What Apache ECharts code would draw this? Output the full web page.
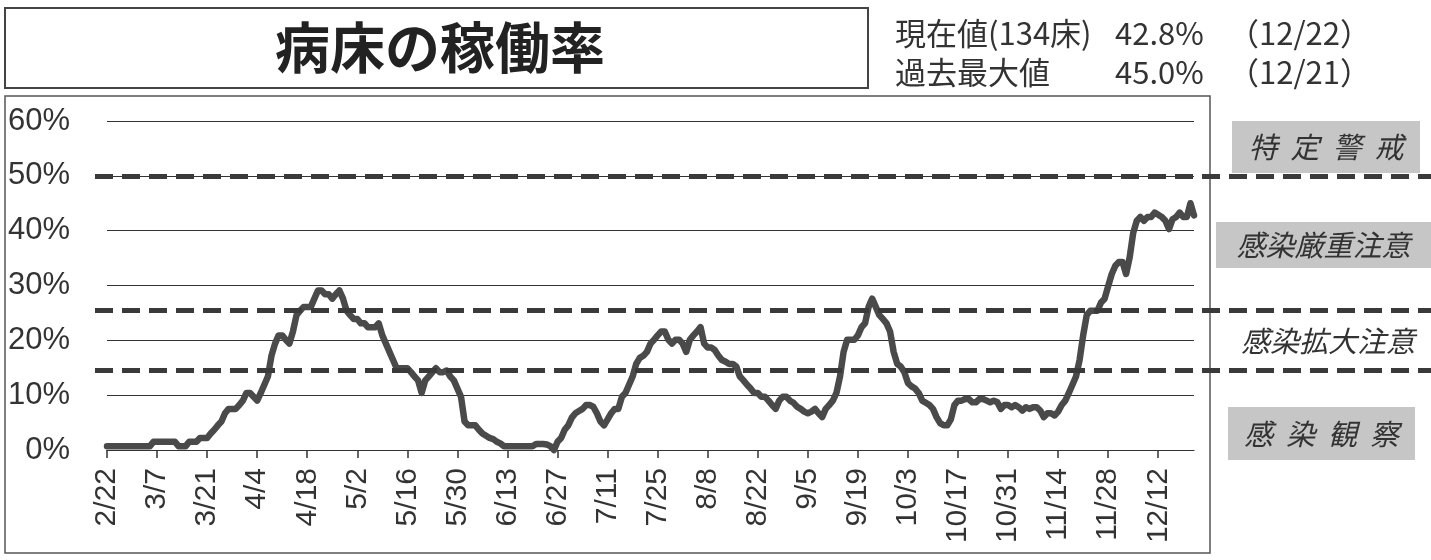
<!DOCTYPE html>
<html>
<head>
<meta charset="utf-8">
<script src="https://cdn.jsdelivr.net/npm/echarts@6/dist/echarts.min.js"></script>
<style>
  html, body { margin: 0; padding: 0; background: #fff; }
  #chart { width: 1431px; height: 560px; }
</style>
</head>
<body>
<div id="chart"></div>
<script>
// Daily bed occupancy rate (%), one array per month, 2/22 – 12/22
const rateFeb = [0.7, 0.7, 0.7, 0.7, 0.7, 0.7, 0.7, 0.7];
const rateMar = [0.7, 0.7, 0.7, 0.7, 0.7, 1.5, 1.5, 1.5, 1.5, 1.5, 1.5, 1.5, 0.7, 0.7, 0.7,
                 1.5, 1.5, 1.5, 2.2, 2.2, 2.2, 3.0, 3.7, 4.5, 5.2, 6.7, 7.5, 7.5, 7.5, 8.2, 9.0];
const rateApr = [10.4, 10.4, 9.7, 9.0, 10.4, 11.9, 13.4, 17.2, 19.4, 20.9, 20.9, 20.1, 19.4, 21.6, 24.6,
                 25.4, 26.1, 26.1, 26.1, 27.6, 29.1, 29.1, 28.4, 28.4, 27.6, 28.4, 29.1, 27.6, 25.4, 24.6];
const rateMay = [23.9, 23.9, 23.1, 23.1, 22.4, 22.4, 22.4, 23.1, 20.9, 19.4, 17.9, 16.4, 14.9, 14.9, 14.9,
                 14.9, 14.2, 13.4, 12.7, 10.4, 12.7, 13.4, 14.2, 14.9, 14.2, 14.2, 14.5, 13.4, 12.7, 11.2, 9.7];
const rateJun = [5.2, 4.5, 4.5, 4.5, 3.7, 3.0, 2.6, 2.2, 2.0, 1.5, 1.2, 0.7, 0.7, 0.7, 0.7,
                 0.7, 0.7, 0.7, 0.7, 0.7, 1.1, 1.1, 1.1, 1.0, 0.7, 0.0, 1.5, 2.2, 3.7, 4.5];
const rateJul = [5.9, 6.7, 7.1, 7.5, 8.2, 8.2, 7.9, 6.7, 5.2, 4.5, 5.6, 6.7, 7.5, 7.5, 9.7,
                 10.4, 11.9, 13.4, 15.7, 16.8, 17.2, 17.9, 19.4, 20.1, 20.9, 21.6, 21.6, 20.1, 19.4, 20.1, 20.1];
const rateAug = [19.4, 17.9, 20.1, 20.9, 21.6, 22.4, 19.4, 18.7, 18.7, 18.2, 17.2, 16.4, 16.1, 15.7, 15.7,
                 15.2, 13.4, 12.7, 11.9, 11.2, 10.4, 10.4, 9.7, 9.7, 9.0, 8.2, 7.5, 9.0, 9.7, 9.7, 9.0];
const rateSep = [8.6, 7.9, 7.5, 7.0, 6.7, 7.0, 7.5, 6.7, 6.0, 7.5, 8.2, 9.0, 10.4, 13.4, 17.9,
                 20.1, 20.1, 20.1, 20.9, 22.4, 23.1, 26.1, 27.6, 26.1, 24.6, 23.9, 23.1, 21.6, 17.9, 15.7];
const rateOct = [15.2, 14.2, 12.2, 11.6, 11.2, 10.4, 9.0, 8.6, 8.2, 7.5, 6.0, 4.9, 4.5, 4.5, 5.6,
                 8.2, 9.0, 9.0, 9.3, 9.3, 8.7, 8.7, 9.3, 9.3, 9.0, 8.7, 9.0, 8.7, 7.5, 8.2, 8.2];
const rateNov = [7.8, 8.2, 7.8, 7.2, 7.8, 7.5, 7.8, 7.8, 7.2, 6.0, 6.7, 6.7, 6.3, 7.0, 8.2,
                 9.0, 10.4, 11.9, 13.4, 16.4, 20.9, 24.6, 25.4, 25.4, 25.4, 26.9, 27.6, 29.9, 32.1, 33.6];
const rateDec = [34.3, 34.3, 32.1, 35.1, 39.6, 41.8, 42.5, 41.8, 42.5, 42.5, 43.3, 42.9, 42.5, 41.8, 40.3,
                 42.1, 42.5, 43.3, 42.5, 42.5, 45.0, 42.8];

// Month number and first day of each monthly block
const monthBlocks = [
  [2, 22, rateFeb], [3, 1, rateMar], [4, 1, rateApr], [5, 1, rateMay], [6, 1, rateJun],
  [7, 1, rateJul], [8, 1, rateAug], [9, 1, rateSep], [10, 1, rateOct], [11, 1, rateNov], [12, 1, rateDec]
];

// Y axis ticks (%)
const yTicks = [0, 10, 20, 30, 40, 50, 60];
// Stage boundaries (%) and stage names, top to bottom
const stageLines = [50, 25.5, 14.5];
const stageNames = ['特  定  警  戒', '感染厳重注意', '感染拡大注意', '感  染  観  察'];
const stageBoxed = [true, true, false, true];
const bedCount = 134;
const titleText = '病床の稼働率';

// Build category labels (M/D) and the flat daily series
const categories = [];
const rate = [];
monthBlocks.forEach(([m, first, vals]) => {
  vals.forEach((v, i) => { categories.push(m + '/' + (first + i)); rate.push(v); });
});

const last = rate.length - 1;
const peakVal = Math.max(...rate);
const peakIdx = rate.indexOf(peakVal);

const LATIN = "'Liberation Sans', Arial, sans-serif";
const CJK = "'Noto Sans CJK JP', 'Noto Sans', sans-serif";
const INK = '#333';

const chart = echarts.init(document.getElementById('chart'), null, { renderer: 'canvas' });

// Header: title box and current / record values
const headerRows = [
  ['現在値(' + bedCount + '床)', rate[last].toFixed(1) + '%', '（' + categories[last] + '）', 33],
  ['過去最大値', peakVal.toFixed(1) + '%', '（' + categories[peakIdx] + '）', 72]
];
const graphics = [
  { type: 'rect', z: 0, shape: { x: 5, y: 8, width: 863, height: 80 },
    style: { fill: '#fff', stroke: '#444', lineWidth: 2 } },
  { type: 'text', z: 1, x: 440, y: 47,
    style: { text: titleText, fill: '#222', font: 'bold 55px ' + CJK, align: 'center', verticalAlign: 'middle' } },
  { type: 'rect', z: 0, shape: { x: 5, y: 96, width: 1205, height: 457 },
    style: { fill: 'transparent', stroke: '#555', lineWidth: 1.5 } }
];
headerRows.forEach(([label, val, date, y]) => {
  graphics.push({ type: 'text', z: 1, x: 895, y: y,
    style: { text: label, fill: INK, font: '31px ' + CJK, verticalAlign: 'middle' } });
  graphics.push({ type: 'text', z: 1, x: 1115, y: y,
    style: { text: val, fill: INK, font: '31px ' + CJK, verticalAlign: 'middle' } });
  graphics.push({ type: 'text', z: 1, x: 1228, y: y,
    style: { text: date, fill: INK, font: '31px ' + CJK, verticalAlign: 'middle' } });
});

// Stage labels on the right side
const stageBoxes = [
  { x: 1232, y: 121, w: 188, h: 52 },
  { x: 1216, y: 222, w: 215, h: 46 },
  { x: 1230, y: 318, w: 196, h: 46 },
  { x: 1228, y: 407, w: 187, h: 53 }
];
stageNames.forEach((name, i) => {
  const b = stageBoxes[i];
  if (stageBoxed[i]) {
    graphics.push({ type: 'rect', z: 1, shape: { x: b.x, y: b.y, width: b.w, height: b.h },
      style: { fill: '#c6c6c6' } });
  }
  graphics.push({ type: 'text', z: 2, x: b.x + b.w / 2, y: b.y + b.h / 2,
    style: { text: name, fill: INK, font: 'italic 29px ' + CJK, align: 'center', verticalAlign: 'middle' } });
});

chart.setOption({
  animation: false,
  backgroundColor: '#fff',
  grid: { left: 107, right: 237, top: 121, bottom: 110, containLabel: false },
  xAxis: {
    type: 'category',
    data: categories,
    boundaryGap: false,
    axisLine: { show: true, lineStyle: { color: INK, width: 1.2 } },
    axisTick: { show: true, interval: 13, length: 8, lineStyle: { color: INK, width: 1.5 } },
    axisLabel: { interval: 13, rotate: 90, margin: 18, color: INK, fontFamily: LATIN, fontSize: 30 },
    splitLine: { show: false }
  },
  yAxis: {
    type: 'value',
    min: yTicks[0],
    max: yTicks[yTicks.length - 1],
    interval: yTicks[1] - yTicks[0],
    axisLine: { show: false },
    axisTick: { show: false },
    axisLabel: { margin: 37, color: INK, fontFamily: LATIN, fontSize: 31, formatter: '{value}%' },
    splitLine: { show: true, lineStyle: { color: INK, width: 1.2 } }
  },
  series: [{
    type: 'line',
    data: rate,
    symbol: 'none',
    smooth: false,
    clip: false,
    lineStyle: { color: '#4a4a4a', width: 6.5, join: 'round', cap: 'round' },
    z: 3,
    markLine: {
      silent: true,
      symbol: 'none',
      label: { show: false },
      lineStyle: { color: '#3a3a3a', width: 5, type: [18, 9] },
      z: 4,
      data: stageLines.map(v => [{ x: 95, yAxis: v }, { x: 1431, yAxis: v }])
    }
  }],
  graphic: graphics
});
</script>
</body>
</html>
